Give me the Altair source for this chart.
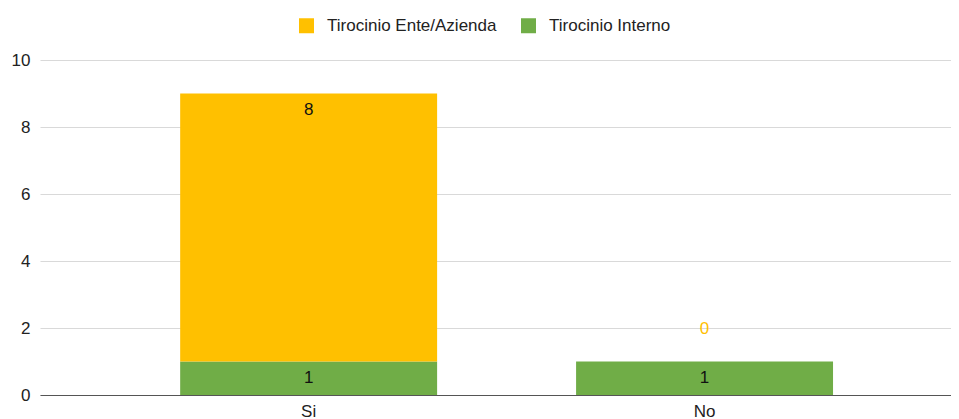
import altair as alt
import pandas as pd

categories = ["Si", "No"]
series = ["Tirocinio Ente/Azienda", "Tirocinio Interno"]
ente_azienda = [8, 0]
interno = [1, 1]
colors = ["#FFC000", "#70AD47"]
y_ticks = [0, 2, 4, 6, 8, 10]

rows = []
for i, c in enumerate(categories):
    rows.append({"category": c, "series": series[1], "value": interno[i], "order": 0})
    rows.append({"category": c, "series": series[0], "value": ente_azienda[i], "order": 1})
df = pd.DataFrame(rows)

FONT = "Liberation Sans"

color_scale = alt.Scale(domain=series, range=colors)

base = alt.Chart(df).transform_stack(
    stack="value", groupby=["category"], as_=["y0", "y1"],
    sort=[alt.SortField("order", order="ascending")]
)

x_scale = alt.Scale(paddingInner=0.351, paddingOuter=0.326, align=0.543)
x_enc = alt.X("category:N", sort=categories, scale=x_scale,
              axis=alt.Axis(title=None, labelAngle=0, ticks=False, labelPadding=8,
                            labelFontSize=17, labelColor="#222222", labelFont=FONT,
                            domainColor="#555555", domainWidth=1, grid=False))
y_scale = alt.Scale(domain=[0, 10], nice=False)

bars = base.mark_bar().encode(
    x=x_enc,
    y=alt.Y("y0:Q", scale=y_scale,
            axis=alt.Axis(title=None, values=y_ticks, ticks=False, domain=False,
                          labelFontSize=17, labelColor="#222222", labelFont=FONT,
                          labelPadding=10, gridColor="#D9D9D9", gridWidth=1)),
    y2="y1:Q",
    color=alt.Color("series:N", scale=color_scale, sort=series,
                    legend=alt.Legend(title=None, orient="none", direction="horizontal",
                                      legendX=258, legendY=-43, symbolType="square",
                                      symbolSize=225, symbolStrokeWidth=0,
                                      labelFontSize=17, labelFont=FONT, labelColor="#222222",
                                      labelLimit=400, columnPadding=23, labelOffset=12)),
)

labels_in = base.transform_filter("datum.value > 0").mark_text(
    dy=16, fontSize=17, font=FONT, color="#111111"
).encode(
    x=alt.X("category:N", sort=categories, scale=x_scale),
    y=alt.Y("y1:Q", scale=y_scale),
    text=alt.Text("value:Q"),
)

labels_zero = base.transform_filter("datum.value == 0").mark_text(
    dy=-33, fontSize=17, font=FONT
).encode(
    x=alt.X("category:N", sort=categories, scale=x_scale),
    y=alt.Y("y1:Q", scale=y_scale),
    text=alt.Text("value:Q"),
    color=alt.Color("series:N", scale=color_scale, legend=None),
)

chart = alt.layer(bars, labels_in, labels_zero).properties(
    width=911, height=335,
    autosize=alt.AutoSizeParams(type="none"),
    padding={"left": 32, "top": 52, "right": 0, "bottom": 24},
).configure_view(stroke=None)

chart.save("out.html", embed_options={"renderer": "svg", "actions": False})
